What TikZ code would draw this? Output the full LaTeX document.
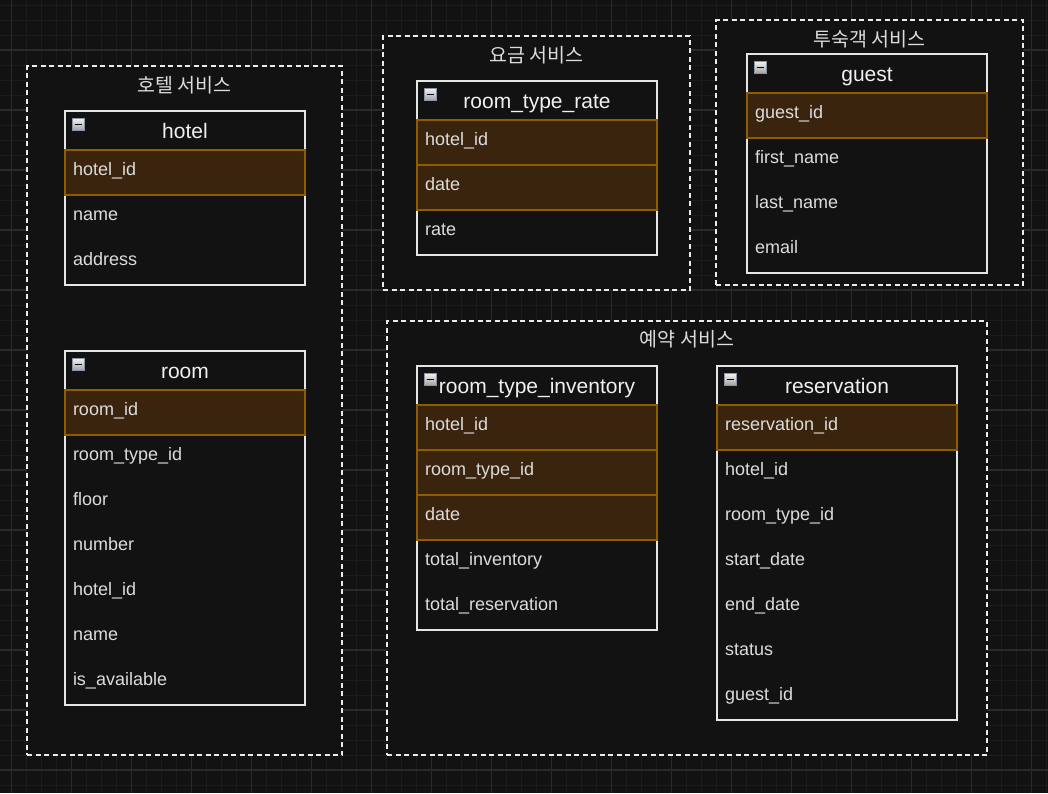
\documentclass[tikz,border=0pt]{standalone}
\usepackage{fontspec}
\setmainfont{Liberation Sans}
\newfontfamily\krfont{Noto Sans CJK KR}
\usetikzlibrary{positioning,fit}
\definecolor{bgc}{HTML}{121212}
\definecolor{minorc}{HTML}{1C1C1C}
\definecolor{majorc}{HTML}{2A2A2A}
\definecolor{pkfill}{HTML}{3A240E}
\definecolor{pkline}{HTML}{8F5C00}
\definecolor{tblline}{HTML}{E6E6E6}
\definecolor{txt}{HTML}{DCDCDC}
\definecolor{icline}{HTML}{8A96A8}
\pgfdeclarelayer{back}
\pgfdeclarelayer{mid}
\pgfsetlayers{back,mid,main}
\tikzset{
 every node/.append style={outer sep=0pt},
 cont/.style={draw=white!92!black, dash pattern=on 5pt off 3.5pt, line width=1.5pt, fill=bgc, anchor=north west, inner sep=0},
 ctitle/.style={text=txt, font=\krfont\fontsize{19.5}{22}\selectfont, inner sep=0},
 hdr/.style={anchor=north west, minimum width=240pt, minimum height=39pt, inner sep=0, text height=18pt, text depth=2pt, text=white!94!black, font=\fontsize{21}{25}\selectfont},
 row/.style={below=0pt of #1, text width=224pt, inner xsep=8pt, inner ysep=0pt, minimum height=45pt, text height=14pt, text depth=9pt, align=left, text=txt, font=\fontsize{18}{22}\selectfont},
 pk/.style={row=#1, fill=pkfill, draw=pkline, line width=1.5pt},
 tbl/.style={draw=tblline, line width=1.5pt, fill=bgc, inner sep=0},
 icon/.style={draw=icline, line width=0.8pt, top color=white!90!gray, bottom color=gray!75!white, minimum size=12.5pt, inner sep=0},
 minusbar/.style={line width=1.8pt, black}
}
\newcommand\tblhead[4]{%
 \node[hdr] (#1) at (#2,#3) {#4};
 \node[icon] (#1-ic) at ([xshift=13.5pt,yshift=-13.5pt]#1.north west) {};
 \draw[minusbar] ([xshift=2.5pt]#1-ic.west) -- ([xshift=-2.5pt]#1-ic.east);}
\newcommand\tblbox[2]{%
 \begin{pgfonlayer}{mid}\node[tbl, fit=(#1)(#2)] (#1-box) {};\end{pgfonlayer}}
\begin{document}
\begin{tikzpicture}[x=1pt,y=-1pt]
\useasboundingbox (0,0) rectangle (1048,793);
\begin{pgfonlayer}{back}
\fill[bgc] (0,0) rectangle (1048,793);
\foreach \x in {11.7,26.7,...,1048} \draw[minorc, line width=1pt] (\x,0) -- (\x,793);
\foreach \y in {5,20,...,793} \draw[minorc, line width=1pt] (0,\y) -- (1048,\y);
\foreach \x in {11.7,71.7,...,1048} \draw[majorc, line width=1.2pt] (\x,0) -- (\x,793);
\foreach \y in {50,110,...,793} \draw[majorc, line width=1.2pt] (0,\y) -- (1048,\y);
\node[cont, minimum width=315pt, minimum height=689pt] (hotelsvc) at (27,66) {};
\node[cont, minimum width=307pt, minimum height=254pt] (ratesvc) at (383,36) {};
\node[cont, minimum width=307pt, minimum height=265pt] (guestsvc) at (716,20) {};
\node[cont, minimum width=600pt, minimum height=434pt] (resvsvc) at (387,321) {};
\end{pgfonlayer}
\node[ctitle] (hotelsvc-t) at ([yshift=-19pt]hotelsvc.north) {호텔 서비스};
\node[ctitle] (ratesvc-t) at ([yshift=-19pt]ratesvc.north) {요금 서비스};
\node[ctitle] (guestsvc-t) at ([yshift=-19pt]guestsvc.north) {투숙객 서비스};
\node[ctitle] (resvsvc-t) at ([yshift=-18pt]resvsvc.north) {예약 서비스};
% hotel
\tblhead{hotel}{65}{111}{hotel}
\node[pk=hotel] (hotel-1) {hotel\_id};
\node[row=hotel-1] (hotel-2) {name};
\node[row=hotel-2] (hotel-3) {address};
\tblbox{hotel}{hotel-3}
% room
\tblhead{room}{65}{351}{room}
\node[pk=room] (room-1) {room\_id};
\node[row=room-1] (room-2) {room\_type\_id};
\node[row=room-2] (room-3) {floor};
\node[row=room-3] (room-4) {number};
\node[row=room-4] (room-5) {hotel\_id};
\node[row=room-5] (room-6) {name};
\node[row=room-6] (room-7) {is\_available};
\tblbox{room}{room-7}
% room_type_rate
\tblhead{rtr}{417}{81}{room\_type\_rate}
\node[pk=rtr] (rtr-1) {hotel\_id};
\node[pk=rtr-1] (rtr-2) {date};
\node[row=rtr-2] (rtr-3) {rate};
\tblbox{rtr}{rtr-3}
% guest
\tblhead{guest}{747}{54}{guest}
\node[pk=guest] (guest-1) {guest\_id};
\node[row=guest-1] (guest-2) {first\_name};
\node[row=guest-2] (guest-3) {last\_name};
\node[row=guest-3] (guest-4) {email};
\tblbox{guest}{guest-4}
% room_type_inventory
\tblhead{rti}{417}{366}{room\_type\_inventory}
\node[pk=rti] (rti-1) {hotel\_id};
\node[pk=rti-1] (rti-2) {room\_type\_id};
\node[pk=rti-2] (rti-3) {date};
\node[row=rti-3] (rti-4) {total\_inventory};
\node[row=rti-4] (rti-5) {total\_reservation};
\tblbox{rti}{rti-5}
% reservation
\tblhead{resv}{717}{366}{reservation}
\node[pk=resv] (resv-1) {reservation\_id};
\node[row=resv-1] (resv-2) {hotel\_id};
\node[row=resv-2] (resv-3) {room\_type\_id};
\node[row=resv-3] (resv-4) {start\_date};
\node[row=resv-4] (resv-5) {end\_date};
\node[row=resv-5] (resv-6) {status};
\node[row=resv-6] (resv-7) {guest\_id};
\tblbox{resv}{resv-7}
\end{tikzpicture}
\end{document}
